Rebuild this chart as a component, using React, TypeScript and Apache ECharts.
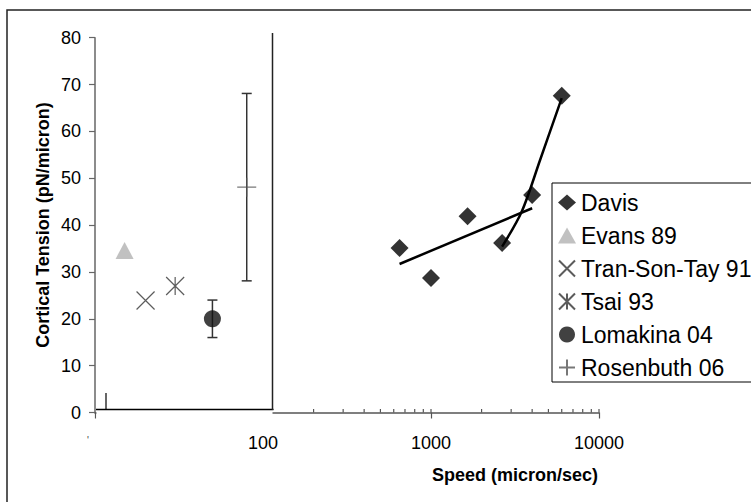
import React, { useEffect, useRef } from 'react';
import * as echarts from 'echarts';

// ---- data ----
const davisSpeed = [650, 1000, 1650, 2650, 4000, 6000];
const davisTension = [35.1, 28.7, 41.9, 36.2, 46.4, 67.6];
const fitLowSpeed = [650, 4000];
const fitLowTension = [31.7, 43.6];
const fitHighSpeed = [2650, 3470, 4460, 6000];
const fitHighTension = [35.4, 42.9, 53.9, 67.1];
const evansSpeed = [15];
const evansTension = [34.6];
const tranSpeed = [20];
const tranTension = [23.9];
const tsaiSpeed = [30];
const tsaiTension = [27];
const lomakinaSpeed = [50];
const lomakinaTension = [20];
const lomakinaLow = [16];
const lomakinaHigh = [24];
const rosenSpeed = [80];
const rosenTension = [48.1];
const rosenLow = [28.1];
const rosenHigh = [68.1];
const minorTickValues = [200, 300, 400, 500, 600, 700, 800, 900, 1000, 2000, 3000, 4000, 5000, 6000, 7000, 8000, 9000, 10000];
const legendNames = ['Davis', 'Evans 89', 'Tran-Son-Tay 91', 'Tsai 93', 'Lomakina 04', 'Rosenbuth 06'];
const yTitle = 'Cortical Tension (pN/micron)';
const xTitle = 'Speed (micron/sec)';

const FONT = '"Liberation Sans", Arial, sans-serif';
const pairs = (xs: number[], ys: number[]) => xs.map((x, i) => [x, ys[i]]);
const triples = (xs: number[], lo: number[], hi: number[]) => xs.map((x, i) => [x, lo[i], hi[i]]);

const X_PATH = 'path://M0,0L10,10M10,0L0,10';
const STAR_PATH = 'path://M0,0L10,10M10,0L0,10M5,0L5,10';
const PLUS_PATH = 'path://M5,0L5,10M0,5L10,5';

const errorBarRender = (color: string) => (params: any, api: any) => {
  const x = api.value(0);
  const top = api.coord([x, api.value(2)]);
  const bot = api.coord([x, api.value(1)]);
  const w = 5;
  const st = { stroke: color, lineWidth: 1.5 };
  return {
    type: 'group',
    children: [
      { type: 'line', shape: { x1: top[0], y1: top[1], x2: bot[0], y2: bot[1] }, style: st },
      { type: 'line', shape: { x1: top[0] - w, y1: top[1], x2: top[0] + w, y2: top[1] }, style: st },
      { type: 'line', shape: { x1: bot[0] - w, y1: bot[1], x2: bot[0] + w, y2: bot[1] }, style: st },
    ],
  };
};

export default function App() {
  const ref = useRef<HTMLDivElement>(null);
  useEffect(() => {
    if (!ref.current) return;
    const chart = echarts.init(ref.current, undefined, { renderer: 'svg' });
    const option: any = {
      animation: false,
      backgroundColor: '#fff',
      grid: { left: 95, right: 152, top: 37.7, bottom: 89.5 },
      xAxis: {
        type: 'log',
        logBase: 10,
        min: 10,
        max: 10000,
        axisLine: { show: true, lineStyle: { color: '#555', width: 1.5 } },
        axisTick: { show: true, length: 6, lineStyle: { color: '#555', width: 1.2 } },
        splitLine: { show: false },
        axisLabel: {
          fontSize: 18,
          fontFamily: FONT,
          color: '#000',
          margin: 21,
          formatter: (v: number) => (Math.round(v) === 10 ? '' : String(Math.round(v))),
        },
      },
      yAxis: {
        type: 'value',
        min: 0,
        max: 80,
        interval: 10,
        axisLine: { show: true, lineStyle: { color: '#666', width: 1.5 } },
        axisTick: { show: true, length: 6, lineStyle: { color: '#666', width: 1.2 } },
        splitLine: { show: false },
        axisLabel: { fontSize: 18, fontFamily: FONT, color: '#000', margin: 14 },
      },
      legend: {
        data: legendNames,
        orient: 'vertical',
        left: 552,
        top: 183,
        padding: [7, 18, 2, 6],
        itemGap: 8,
        itemWidth: 18,
        itemHeight: 16,
        borderColor: '#000',
        borderWidth: 1,
        backgroundColor: '#fff',
        selectedMode: false,
        textStyle: { fontSize: 23, fontFamily: FONT, color: '#000', lineHeight: 25 },
      },
      graphic: [
        { type: 'rect', z: 100, shape: { x: 7, y: 10, width: 900, height: 700 }, style: { fill: 'none', stroke: '#222', lineWidth: 1.5 } },
        { type: 'rect', z: 100, shape: { x: 96.5, y: 410.5, width: 176, height: 10 }, style: { fill: '#fff' } },
        { type: 'line', z: 101, shape: { x1: 96, y1: 409.5, x2: 273.5, y2: 409.5 }, style: { stroke: '#000', lineWidth: 1.5 } },
        { type: 'line', z: 101, shape: { x1: 272.5, y1: 33, x2: 272.5, y2: 410 }, style: { stroke: '#222', lineWidth: 1.5 } },
        { type: 'line', z: 101, shape: { x1: 106, y1: 393, x2: 106, y2: 410 }, style: { stroke: '#000', lineWidth: 1.2 } },
        {
          type: 'text', z: 101, x: 88, y: 440,
          style: { text: "'", font: `10px ${FONT}`, fill: '#444', align: 'center', verticalAlign: 'middle', textAlign: 'center', textVerticalAlign: 'middle' },
        },
        {
          type: 'text', z: 101, x: 42.5, y: 225, rotation: Math.PI / 2,
          style: { text: yTitle, font: `bold 18px ${FONT}`, fill: '#000', align: 'center', verticalAlign: 'middle', textAlign: 'center', textVerticalAlign: 'middle' },
        },
        {
          type: 'text', z: 101, x: 515, y: 475,
          style: { text: xTitle, font: `bold 18px ${FONT}`, fill: '#000', align: 'center', verticalAlign: 'middle', textAlign: 'center', textVerticalAlign: 'middle' },
        },
      ],
      series: [
        {
          name: 'Davis fit low', type: 'line', data: pairs(fitLowSpeed, fitLowTension), showSymbol: false, symbol: 'none',
          lineStyle: { color: '#000', width: 2.5 }, silent: true, z: 3,
        },
        {
          name: 'Davis fit high', type: 'line', data: pairs(fitHighSpeed, fitHighTension), showSymbol: false, symbol: 'none', smooth: 0.3,
          lineStyle: { color: '#000', width: 2.5 }, silent: true, z: 3,
        },
        {
          name: 'Davis', type: 'scatter', data: pairs(davisSpeed, davisTension), symbol: 'diamond', symbolSize: 18,
          itemStyle: { color: '#000' }, z: 4,
        },
        {
          name: 'Evans 89', type: 'scatter', data: pairs(evansSpeed, evansTension), symbol: 'triangle', symbolSize: [18, 17],
          itemStyle: { color: '#b2b2b2' },
        },
        {
          name: 'Tran-Son-Tay 91', type: 'scatter', data: pairs(tranSpeed, tranTension), symbol: X_PATH, symbolSize: 18,
          itemStyle: { color: 'rgba(0,0,0,0)', borderColor: '#333', borderWidth: 1.2 },
        },
        {
          name: 'Tsai 93', type: 'scatter', data: pairs(tsaiSpeed, tsaiTension), symbol: STAR_PATH, symbolSize: 18,
          itemStyle: { color: 'rgba(0,0,0,0)', borderColor: '#333', borderWidth: 1.2 },
        },
        {
          name: 'Lomakina err', type: 'custom', data: triples(lomakinaSpeed, lomakinaLow, lomakinaHigh),
          encode: { x: 0, y: [1, 2] }, renderItem: errorBarRender('#333'), silent: true,
        },
        {
          name: 'Lomakina 04', type: 'scatter', data: pairs(lomakinaSpeed, lomakinaTension), symbol: 'circle', symbolSize: 17,
          itemStyle: { color: '#111' }, z: 4,
        },
        {
          name: 'Rosenbuth err', type: 'custom', data: triples(rosenSpeed, rosenLow, rosenHigh),
          encode: { x: 0, y: [1, 2] }, renderItem: errorBarRender('#333'), silent: true,
        },
        {
          name: 'Rosenbuth 06', type: 'scatter', data: pairs(rosenSpeed, rosenTension), symbol: PLUS_PATH, symbolSize: 19,
          itemStyle: { color: 'rgba(0,0,0,0)', borderColor: '#555', borderWidth: 1.2 },
        },
        {
          name: 'minor ticks', type: 'custom', data: minorTickValues.map((v) => [v, 0]), silent: true,
          encode: { x: 0, y: 1 },
          renderItem: (params: any, api: any) => {
            const p = api.coord([api.value(0), 0]);
            return { type: 'line', shape: { x1: p[0], y1: p[1], x2: p[0], y2: p[1] - 3.5 }, style: { stroke: '#555', lineWidth: 1.2 } };
          },
        },
      ],
    };
    chart.setOption(option);
    return () => chart.dispose();
  }, []);
  return <div ref={ref} style={{ position: 'fixed', left: 0, top: 0, width: 751, height: 502 }} />;
}
